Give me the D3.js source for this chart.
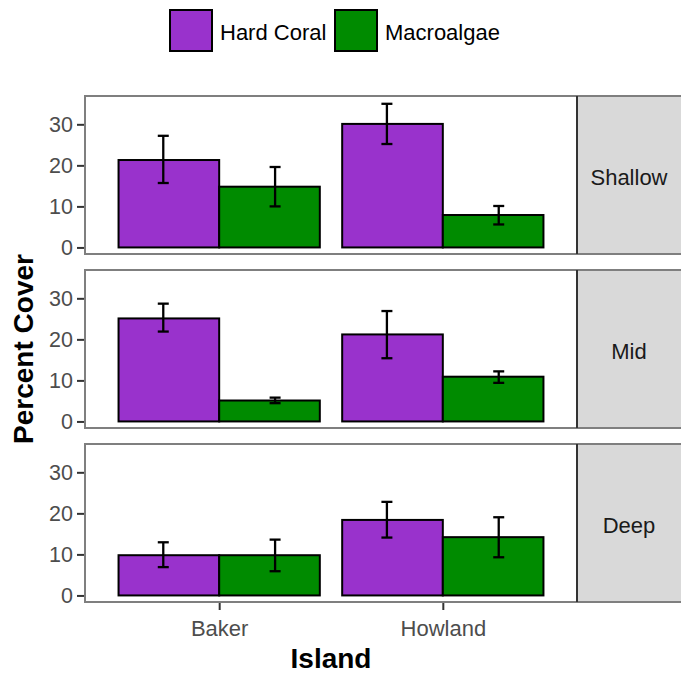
<!DOCTYPE html>
<html>
<head>
<meta charset="utf-8">
<script src="https://cdn.jsdelivr.net/npm/d3@7"></script>
<style>
  html, body { margin: 0; padding: 0; background: #fff; }
  svg { display: block; font-family: "Liberation Sans", Arial, sans-serif; }
</style>
</head>
<body>
<svg id="chart" width="681" height="675"></svg>
<script>
// ---- data ----
const depths = ["Shallow", "Mid", "Deep"];
const islands = ["Baker", "Howland"];
const groups = ["Hard Coral", "Macroalgae"];
const groupColors = ["#9932CC", "#008B00"];
const yTicks = [0, 10, 20, 30];

// means by depth -> island
const hardCoralMean = [[21.3, 30.1], [25.1, 21.2], [9.8, 18.4]];
const macroalgaeMean = [[14.8, 7.9], [5.1, 10.9], [9.8, 14.2]];
// error bar low / high by depth -> island
const hardCoralLow = [[15.7, 25.2], [21.9, 15.4], [6.9, 14.1]];
const hardCoralHigh = [[27.2, 35.0], [28.7, 26.9], [12.95, 22.8]];
const macroalgaeLow = [[10.0, 5.6], [4.45, 9.4], [5.9, 9.3]];
const macroalgaeHigh = [[19.6, 10.1], [5.8, 12.2], [13.6, 19.05]];

const means = [hardCoralMean, macroalgaeMean];
const lows = [hardCoralLow, macroalgaeLow];
const highs = [hardCoralHigh, macroalgaeHigh];

// ---- layout ----
const svg = d3.select("#chart");
const panelLeft = 85, panelRight = 577, stripRight = 683;
const panelTops = [96, 270, 444];
const panelH = 158;

const step = (panelRight - panelLeft) / 2.2;
const cx = d => panelLeft + (0.6 + islands.indexOf(d)) * step;
const xg = d3.scaleBand().domain(groups).range([-0.45 * step, 0.45 * step]);
const errOffset = [-0.25 * step, 0.25 * step];
const capHalf = 5.5;

const rows = depths.map((dep, di) => {
  const data = [];
  islands.forEach((isl, ii) => {
    groups.forEach((g, gi) => {
      data.push({ island: isl, group: g, gi, mean: means[gi][di][ii], lo: lows[gi][di][ii], hi: highs[gi][di][ii] });
    });
  });
  return data;
});

depths.forEach((dep, di) => {
  const top = panelTops[di];
  const y = d3.scaleLinear().domain([-1.6, 36.9]).range([top + panelH, top]);
  const g = svg.append("g");

  // strip background
  g.append("rect").attr("x", panelRight).attr("y", top).attr("width", stripRight - panelRight).attr("height", panelH)
    .attr("fill", "#d9d9d9");

  // bars
  g.selectAll("rect.bar").data(rows[di]).join("rect").attr("class", "bar")
    .attr("x", d => cx(d.island) + xg(d.group))
    .attr("width", xg.bandwidth())
    .attr("y", d => y(d.mean))
    .attr("height", d => y(0) - y(d.mean))
    .attr("fill", d => groupColors[d.gi])
    .attr("stroke", "#000").attr("stroke-width", 2);

  // error bars
  const eb = g.selectAll("g.err").data(rows[di]).join("g").attr("class", "err")
    .attr("stroke", "#000").attr("stroke-width", 2.3);
  eb.append("line")
    .attr("x1", d => cx(d.island) + errOffset[d.gi]).attr("x2", d => cx(d.island) + errOffset[d.gi])
    .attr("y1", d => y(d.lo)).attr("y2", d => y(d.hi));
  eb.append("line")
    .attr("x1", d => cx(d.island) + errOffset[d.gi] - capHalf).attr("x2", d => cx(d.island) + errOffset[d.gi] + capHalf)
    .attr("y1", d => y(d.lo)).attr("y2", d => y(d.lo));
  eb.append("line")
    .attr("x1", d => cx(d.island) + errOffset[d.gi] - capHalf).attr("x2", d => cx(d.island) + errOffset[d.gi] + capHalf)
    .attr("y1", d => y(d.hi)).attr("y2", d => y(d.hi));

  // panel border
  g.append("rect").attr("x", panelLeft).attr("y", top).attr("width", stripRight - panelLeft).attr("height", panelH)
    .attr("fill", "none").attr("stroke", "#7f7f7f").attr("stroke-width", 2);
  g.append("line").attr("x1", panelRight).attr("x2", panelRight).attr("y1", top).attr("y2", top + panelH)
    .attr("stroke", "#333").attr("stroke-width", 2);

  // strip text
  g.append("text").attr("x", (panelRight + 681) / 2).attr("y", top + panelH / 2 + 10)
    .attr("text-anchor", "middle").attr("font-size", 22).attr("fill", "#1a1a1a").text(dep);

  // y axis
  const yAxis = d3.axisLeft(y).tickValues(yTicks).tickSize(7).tickPadding(4).tickFormat(d3.format("d"));
  const ya = g.append("g").attr("transform", `translate(${panelLeft - 1},0)`).call(yAxis);
  ya.select(".domain").remove();
  ya.selectAll(".tick line").attr("stroke", "#333").attr("stroke-width", 2);
  ya.selectAll(".tick text").attr("font-size", 21.5).attr("fill", "#4d4d4d").attr("font-family", "Liberation Sans, Arial, sans-serif");

  if (di === depths.length - 1) {
    const xAxis = d3.axisBottom(d3.scalePoint().domain(islands).range([cx(islands[0]), cx(islands[1])]))
      .tickSize(7).tickPadding(6);
    const xa = g.append("g").attr("transform", `translate(0,${top + panelH + 1})`).call(xAxis);
    xa.select(".domain").remove();
    xa.selectAll(".tick line").attr("stroke", "#333").attr("stroke-width", 2);
    xa.selectAll(".tick text").attr("font-size", 22).attr("fill", "#4d4d4d").attr("dy", "0.9em")
      .attr("font-family", "Liberation Sans, Arial, sans-serif");
  }
});

// axis titles
svg.append("text").attr("x", (panelLeft + panelRight) / 2).attr("y", 668)
  .attr("text-anchor", "middle").attr("font-size", 28).attr("font-weight", "bold").attr("fill", "#000").text("Island");
svg.append("text").attr("transform", `translate(33,349) rotate(-90)`)
  .attr("text-anchor", "middle").attr("font-size", 28).attr("font-weight", "bold").attr("fill", "#000").text("Percent Cover");

// legend
const legendX = [170, 335];
const lg = svg.append("g");
groups.forEach((grp, i) => {
  lg.append("rect").attr("x", legendX[i]).attr("y", 10).attr("width", 42).attr("height", 41)
    .attr("fill", groupColors[i]).attr("stroke", "#000").attr("stroke-width", 2);
  lg.append("text").attr("x", legendX[i] + 50).attr("y", 39.5).attr("font-size", 22).attr("fill", "#000").text(grp);
});
</script>
</body>
</html>
